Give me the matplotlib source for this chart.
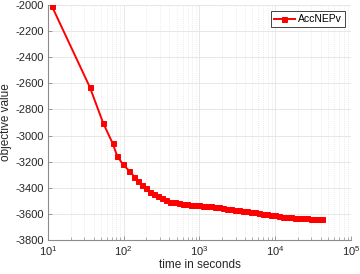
import numpy as np
import matplotlib
matplotlib.use('Agg')
import matplotlib.pyplot as plt
from matplotlib.ticker import LogLocator, NullFormatter

plt.rcParams['font.family'] = ['Liberation Sans', 'DejaVu Sans']
plt.rcParams['axes.unicode_minus'] = False

# time [s] and objective value
time_s = [11.2, 35.8, 53.7, 71.3, 82, 96.6, 118, 138, 155, 175,
          200, 226, 255, 288, 325, 367, 415, 469, 530, 598,
          676, 764, 863, 975, 1100, 1245, 1405, 1590, 1795, 2030,
          2290, 2590, 2925, 3305, 3735, 4220, 4770, 5390, 6090, 6880,
          7770, 8780, 9920, 11200, 12700, 14300, 16200, 18300, 20700, 23300,
          26400, 29800, 33700, 38000, 42000]
objective = [-2005, -2630, -2905, -3058, -3155, -3217, -3270, -3314, -3345, -3378,
             -3403, -3431, -3450, -3466, -3481, -3494, -3506, -3512, -3519, -3523,
             -3528, -3531, -3533, -3535, -3538, -3540, -3543, -3546, -3549, -3554,
             -3559, -3564, -3568, -3572, -3576, -3579, -3584, -3589, -3594, -3599,
             -3604, -3608, -3612, -3616, -3620, -3624, -3626, -3628, -3630, -3633,
             -3635, -3637, -3638, -3640, -3640]

yticks = np.arange(-3800, -1999, 200)

fig = plt.figure(figsize=(3.6, 2.74), dpi=100)
ax = fig.add_axes([0.133, 0.124, 0.842, 0.858])

ax.plot(time_s, objective, color='#ff0000', lw=1.4, marker='s', ms=3.6,
        mew=0.7, label='AccNEPv', zorder=3)

ax.set_xscale('log')
ax.set_xlim(10, 1e5)
ax.set_ylim(-3800, -2000)
ax.set_yticks(yticks)
ax.xaxis.set_minor_locator(LogLocator(base=10, subs=np.arange(2, 10)))
ax.xaxis.set_minor_formatter(NullFormatter())

ax.grid(True, which='major', color='#e3e3e3', lw=0.6)
ax.grid(True, which='minor', axis='x', color='#d8d8d8', lw=0.5, ls=(0, (1, 2)))
ax.set_axisbelow(True)

for s in ['top', 'right']:
    ax.spines[s].set_visible(False)
for s in ['left', 'bottom']:
    ax.spines[s].set_color('#8c8c8c')
    ax.spines[s].set_linewidth(0.8)

ax.tick_params(which='both', direction='in', colors='#8c8c8c', labelcolor='#262626',
               labelsize=8, pad=3)
ax.tick_params(which='major', length=3, width=0.6)
ax.tick_params(which='minor', length=2, width=0.5)

ax.set_xlabel('time in seconds', fontsize=8.5, color='#262626', labelpad=1)
ax.set_ylabel('objective value', fontsize=8.5, color='#262626')
ax.yaxis.set_label_coords(-0.117, 0.5)

leg = ax.legend(loc='upper right', fontsize=7.5, fancybox=False, framealpha=1,
                edgecolor='#262626', handlelength=2.0, borderpad=0.3,
                handletextpad=0.3, borderaxespad=0.6)
leg.get_frame().set_linewidth(0.6)

fig.savefig('out.png', dpi=100)
